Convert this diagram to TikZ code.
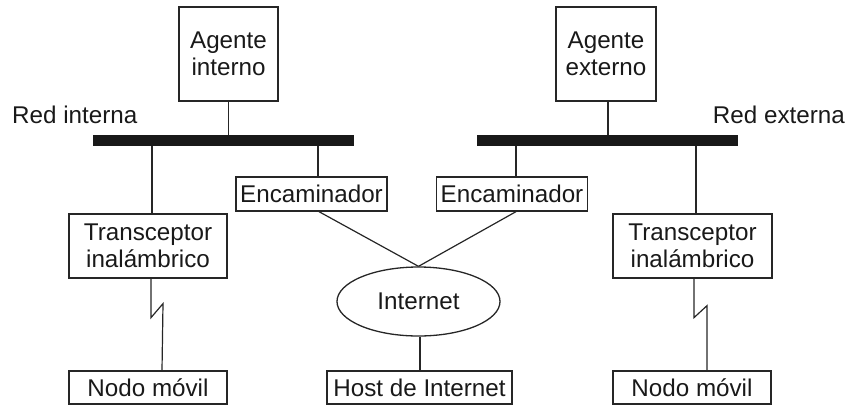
\documentclass[tikz,border=0pt]{standalone}
\usepackage{fontspec}
\setmainfont{Liberation Sans}
\usetikzlibrary{shapes.geometric}
\begin{document}
\begin{tikzpicture}[x=1pt,y=-1pt,
  every node/.style={font=\fontsize{24.2}{26.5}\selectfont, text=black!90},
  line/.style={line width=1.2pt, black!85},
  box/.style={draw=black!85, line width=1.3pt, inner sep=0pt, align=center},
  bus/.style={fill=black!90, draw=none, inner sep=0pt, minimum height=11pt},
  cloud/.style={ellipse, draw=black!85, line width=1.3pt, inner sep=0pt}]
\useasboundingbox (0,0) rectangle (849,405);
% nodes
\node[box, minimum width=99pt, minimum height=94pt] (ai) at (228.5,54) {Agente\\interno};
\node[box, minimum width=100pt, minimum height=94pt] (ae) at (606,54) {Agente\\externo};
\node[bus, minimum width=261pt] (barI) at (223.5,140.5) {};
\node[bus, minimum width=261pt] (barE) at (607.5,140.5) {};
\node[anchor=base west, inner sep=0pt] (lblI) at (12,123) {Red interna};
\node[anchor=base east, inner sep=0pt] (lblE) at (845,123) {Red externa};
\node[box, minimum width=151pt, minimum height=34pt] (encL) at (311.5,194) {Encaminador};
\node[box, minimum width=151pt, minimum height=34pt] (encR) at (512,194) {Encaminador};
\node[box, minimum width=158pt, minimum height=64pt] (trL) at (148,246) {Transceptor\\inalámbrico};
\node[box, minimum width=159pt, minimum height=64pt] (trR) at (692.5,246) {Transceptor\\inalámbrico};
\node[cloud, minimum width=163pt, minimum height=69pt] (inet) at (418.5,301.5) {Internet};
\node[box, minimum width=185pt, minimum height=33pt] (host) at (419.5,387.5) {Host de Internet};
\node[box, minimum width=158pt, minimum height=33pt] (nodL) at (148,387.5) {Nodo móvil};
\node[box, minimum width=158pt, minimum height=33pt] (nodR) at (692,387.5) {Nodo móvil};
% connectors
\draw[line] (ai.south) -- (ai.south |- barI.north);
\draw[line] ([xshift=2pt]ae.south) -- ([xshift=2pt]ae.south |- barE.north);
\draw[line] ([xshift=4pt]trL.north) -- ([xshift=4pt]trL.north |- barI.south);
\draw[line] ([xshift=6.5pt]encL.north) -- ([xshift=6.5pt]encL.north |- barI.south);
\draw[line] ([xshift=4pt]encR.north) -- ([xshift=4pt]encR.north |- barE.south);
\draw[line] ([xshift=3.5pt]trR.north) -- ([xshift=3.5pt]trR.north |- barE.south);
\draw[line] ([xshift=7.5pt]encL.south) -- (inet.north);
\draw[line] ([xshift=4pt]encR.south) -- (inet.north);
\draw[line] ([xshift=1.5pt]inet.south) -- ([xshift=1.5pt]inet.south |- host.north);
\draw[line] ([xshift=3pt]trL.south) -- ++(0,39) -- ++(12,-14) -- ([xshift=14pt]nodL.north);
\draw[line] ([xshift=1.5pt]trR.south) -- ++(0,39) -- ++(13,-12) -- ([xshift=15pt]nodR.north);
\end{tikzpicture}
\end{document}
